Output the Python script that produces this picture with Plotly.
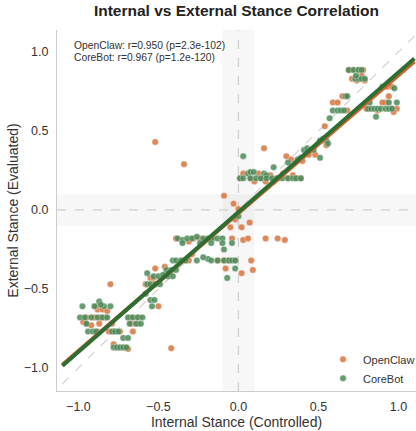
import numpy as np
import plotly.graph_objects as go

# ---- data ----
openclaw_x = [0.71, 0.78, 0.71, 0.77, 0.74, 0.79, 0.59, 0.62, 0.65, 0.68, 0.54,
              0.69, 0.75, 0.73, 0.77,
              0.93, 0.96, 0.94, 0.92, 0.90, 0.80, 0.96, 0.99, 0.87, 0.97,
              0.16, 0.30, 0.33, 0.44, 0.48, 0.53, 0.55, 0.40,
              0.03, 0.125, 0.20, 0.28, 0.34, 0.10, 0.17, 0.22, 0.25,
              0.01, 0.075, 0.14, 0.31, 0.36, 0.39,
              -0.52, -0.34,
              -0.09, -0.03, 0.00, -0.02, -0.05, 0.02, 0.07,
              -0.04, 0.03, 0.06, 0.17, 0.245, 0.29,
              -0.08, 0.02, 0.09, 0.08,
              -0.02, -0.06, -0.09, -0.13,
              -0.39, -0.28, -0.24, -0.21, -0.17, -0.31,
              -0.34, -0.31, -0.29,
              -0.52, -0.46, -0.43, -0.55, -0.53, -0.57, -0.53, -0.50, -0.58,
              -0.80,
              -0.88, -0.85, -0.82, -0.89,
              -0.95, -0.90, -0.86, -0.83, -0.67, -0.62,
              -0.97, -0.95, -0.92, -0.87, -0.79, -0.67, -0.63,
              -0.88, -0.81, -0.78, -0.74, -0.66,
              -0.78, -0.76, -0.74, -0.72, -0.70, -0.69,
              -0.42]
openclaw_y = [0.886, 0.886, 0.83, 0.83, 0.82, 0.82, 0.68, 0.68, 0.72, 0.63, 0.53,
              0.886, 0.886, 0.83, 0.85,
              0.78, 0.78, 0.72, 0.68, 0.68, 0.64, 0.64, 0.64, 0.63, 0.62,
              0.39, 0.34, 0.32, 0.35, 0.35, 0.44, 0.41, 0.31,
              0.23, 0.23, 0.22, 0.23, 0.22, 0.18, 0.18, 0.18, 0.20,
              0.20, 0.20, 0.20, 0.20, 0.20, 0.20,
              0.43, 0.29,
              0.09, 0.04, 0.006, -0.06, -0.11, -0.11, -0.08,
              -0.18, -0.19, -0.18, -0.18, -0.18, -0.19,
              -0.37, -0.40, -0.38, -0.32,
              -0.32, -0.32, -0.32, -0.32,
              -0.18, -0.18, -0.18, -0.19, -0.18, -0.20,
              -0.32, -0.32, -0.28,
              -0.37, -0.36, -0.40, -0.43, -0.43, -0.47, -0.47, -0.61, -0.47,
              -0.47,
              -0.63, -0.63, -0.64, -0.61,
              -0.68, -0.68, -0.68, -0.68, -0.68, -0.68,
              -0.71, -0.72, -0.73, -0.72, -0.72, -0.72, -0.72,
              -0.77, -0.77, -0.77, -0.77, -0.77,
              -0.85, -0.87, -0.87, -0.87, -0.87, -0.88,
              -0.875]

corebot_x = [0.69, 0.72, 0.75, 0.77, 0.73, 0.75, 0.77, 0.79, 0.735,
             0.67, 0.68, 0.59, 0.62, 0.64, 0.66, 0.57,
             0.90, 0.975, 0.82, 0.94, 0.99,
             0.81, 0.83, 0.85, 0.87, 0.89, 0.92, 0.94, 0.96, 0.86,
             0.03, 0.22, 0.31, 0.41, 0.43, 0.45, 0.47, 0.51, 0.53, 0.55, 0.56, 0.51, 0.37, 0.39,
             0.06, 0.075, 0.095, 0.16, 0.175,
             0.01, 0.03, 0.075, 0.11, 0.14, 0.175, 0.21, 0.24, 0.275, 0.31, 0.34, 0.36, 0.39,
             0.00,
             -0.38, -0.35, -0.32, -0.29, -0.26, -0.22, -0.19, -0.16, -0.13, -0.10,
             -0.35, -0.24, -0.17, -0.10, -0.04,
             -0.41, -0.39, -0.36, -0.33, -0.26, -0.19, -0.17, -0.13, -0.09, -0.06, -0.04, -0.02,
             -0.09, -0.02, -0.07, -0.22,
             -0.57, -0.45, -0.42, -0.39,
             -0.53, -0.50, -0.47, -0.44, -0.41,
             -0.57, -0.55, -0.52, -0.49,
             -0.58, -0.55, -0.525, -0.54,
             -0.975, -0.87, -0.90, -0.84, -0.80, -0.86,
             -0.99, -0.96, -0.92, -0.88, -0.85, -0.82,
             -0.69, -0.66, -0.63, -0.60,
             -0.95, -0.68, -0.64, -0.61,
             -0.94, -0.91, -0.89, -0.79, -0.77, -0.75,
             -0.72, -0.69,
             -0.78, -0.76, -0.74, -0.72, -0.70]
corebot_y = [0.886, 0.886, 0.886, 0.886, 0.83, 0.83, 0.83, 0.83, 0.85,
             0.72, 0.72, 0.63, 0.63, 0.63, 0.63, 0.58,
             0.78, 0.77, 0.68, 0.68, 0.68,
             0.64, 0.64, 0.64, 0.64, 0.64, 0.64, 0.64, 0.64, 0.59,
             0.34, 0.27, 0.30, 0.38, 0.39, 0.38, 0.38, 0.44, 0.45, 0.44, 0.42, 0.33, 0.32, 0.33,
             0.23, 0.24, 0.24, 0.23, 0.22,
             0.20, 0.20, 0.20, 0.20, 0.20, 0.20, 0.20, 0.20, 0.20, 0.20, 0.20, 0.20, 0.20,
             -0.04,
             -0.18, -0.19, -0.18, -0.18, -0.17, -0.18, -0.18, -0.18, -0.18, -0.18,
             -0.21, -0.21, -0.21, -0.21, -0.21,
             -0.32, -0.32, -0.32, -0.32, -0.32, -0.31, -0.32, -0.32, -0.32, -0.32, -0.32, -0.32,
             -0.25, -0.37, -0.43, -0.30,
             -0.40, -0.38, -0.38, -0.38,
             -0.42, -0.42, -0.41, -0.42, -0.42,
             -0.47, -0.47, -0.47, -0.47,
             -0.53, -0.57, -0.57, -0.61,
             -0.61, -0.58, -0.61, -0.61, -0.61, -0.60,
             -0.68, -0.68, -0.68, -0.68, -0.68, -0.68,
             -0.68, -0.68, -0.68, -0.68,
             -0.72, -0.72, -0.72, -0.72,
             -0.77, -0.77, -0.77, -0.77, -0.77, -0.77,
             -0.81, -0.81,
             -0.87, -0.87, -0.87, -0.87, -0.87]

series_names = ["OpenClaw", "CoreBot"]
stats_text = ["OpenClaw: r=0.950 (p=2.3e-102)", "CoreBot: r=0.967 (p=1.2e-120)"]
reg_x_range = [-1.1, 1.1]
diag_range = [-1.1, 1.1]
neutral_band = [-0.1, 0.1]
tick_vals = [-1.0, -0.5, 0.0, 0.5, 1.0]

# ---- styling ----
point_colors = ["#D8743E", "#4B8A58"]
line_colors = ["#D0652B", "#2E6E33"]
FONT = "Liberation Sans, Arial, sans-serif"

fig = go.Figure()

# shaded neutral bands
fig.add_shape(type="rect", xref="x", yref="paper", x0=neutral_band[0], x1=neutral_band[1],
              y0=0, y1=1, fillcolor="rgba(0,0,0,0.03)", line_width=0, layer="below")
fig.add_shape(type="rect", xref="paper", yref="y", x0=0, x1=1,
              y0=neutral_band[0], y1=neutral_band[1], fillcolor="rgba(0,0,0,0.03)",
              line_width=0, layer="below")
# zero lines
fig.add_shape(type="line", xref="x", yref="paper", x0=0, x1=0, y0=0, y1=1,
              line=dict(color="#cfcfcf", width=1.3, dash="dash"), layer="below")
fig.add_shape(type="line", xref="paper", yref="y", x0=0, x1=1, y0=0, y1=0,
              line=dict(color="#cfcfcf", width=1.3, dash="dash"), layer="below")

# diagonal reference
fig.add_trace(go.Scatter(x=diag_range, y=diag_range, mode="lines",
                         line=dict(color="#d3d3d3", width=1.2, dash="dash"),
                         showlegend=False, hoverinfo="skip"))

xs = [openclaw_x, corebot_x]
ys = [openclaw_y, corebot_y]
for i in range(2):
    fig.add_trace(go.Scatter(x=xs[i], y=ys[i], mode="markers", name=series_names[i],
                             marker=dict(color=point_colors[i], size=6.5, opacity=0.85,
                                         line=dict(color="white", width=0.4))))
for i in range(2):
    slope, intercept = np.polyfit(xs[i], ys[i], 1)
    lx = np.array(reg_x_range)
    fig.add_trace(go.Scatter(x=lx, y=slope * lx + intercept, mode="lines",
                             line=dict(color=line_colors[i], width=4),
                             showlegend=False, hoverinfo="skip"))

for txt, ypos in zip(stats_text, [0.956, 0.924]):
    fig.add_annotation(xref="paper", yref="paper", x=0.042, y=ypos, xanchor="left",
                       yanchor="middle", text=txt, showarrow=False, align="left",
                       font=dict(family=FONT, size=10.3, color="#333333"))

axis_common = dict(showgrid=False, zeroline=False, showline=True, linecolor="#cccccc",
                   linewidth=1.2, ticks="", tickvals=tick_vals, automargin=False,
                   ticktext=[f"{v:.1f}".replace("-", "\u2212") for v in tick_vals],
                   tickfont=dict(family=FONT, size=12.5, color="#333333"))

fig.update_layout(
    width=416, height=431,
    margin=dict(l=57, r=0, t=30, b=40, autoexpand=False),
    plot_bgcolor="white", paper_bgcolor="white",
    title=dict(text="<b>Internal vs External Stance Correlation</b>", x=0.5, xref="paper",
               xanchor="center", y=1 - 11 / 431, yref="container", yanchor="middle",
               font=dict(family=FONT, size=15.5, color="#222222")),
    xaxis=dict(range=[-1.134, 1.110], ticklabelstandoff=4,
               title=dict(text="Internal Stance (Controlled)", standoff=1,
                          font=dict(family=FONT, size=14, color="#333333")), **axis_common),
    yaxis=dict(range=[-1.146, 1.139], ticklabelstandoff=5,
               title=dict(text="External Stance (Evaluated)", standoff=1,
                          font=dict(family=FONT, size=14, color="#333333")), **axis_common),
    legend=dict(x=0.741, y=-0.005, xanchor="left", yanchor="bottom", bgcolor="rgba(0,0,0,0)",
                font=dict(family=FONT, size=11, color="#333333"), itemwidth=30,
                tracegroupgap=0),
    showlegend=True,
)

fig.write_html("out.html",
               config={"displayModeBar": False},
               post_script="document.body.style.margin='0';"
                           "document.documentElement.style.overflow='hidden';")
